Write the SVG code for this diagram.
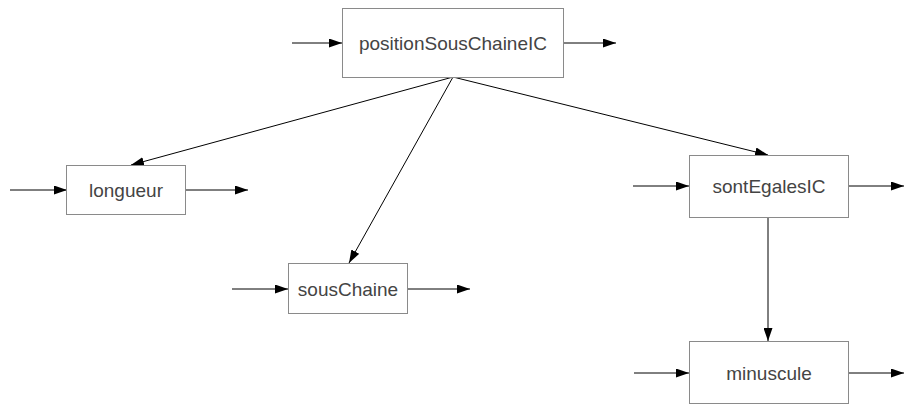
<svg xmlns="http://www.w3.org/2000/svg" width="904" height="404" viewBox="0 0 904 404">
  <style>
    .box { fill: #ffffff; stroke: #8a8a8a; stroke-width: 1; }
    .lbl { font-family: "Liberation Sans", Arial, sans-serif; font-size: 19px; fill: #444444; text-anchor: middle; dominant-baseline: central; }
    .edge { stroke: #000000; stroke-width: 1; fill: none; marker-end: url(#arrow); }
  </style>
  <defs>
    <marker id="arrow" markerWidth="13" markerHeight="9" refX="13" refY="4.5" orient="auto" markerUnits="userSpaceOnUse">
      <path d="M0,0 L13,4.5 L0,9 Z" fill="#000000"/>
    </marker>
  </defs>

  <g id="connectors">
    <!-- call links -->
    <line class="edge" x1="453" y1="77" x2="131" y2="165"/>
    <line class="edge" x1="453" y1="77" x2="349" y2="263"/>
    <line class="edge" x1="453" y1="77" x2="768" y2="155"/>
    <line class="edge" x1="768" y1="218" x2="768" y2="341"/>
    <!-- inputs / outputs -->
    <line class="edge" x1="292" y1="43" x2="342" y2="43"/>
    <line class="edge" x1="564" y1="43" x2="616" y2="43"/>
    <line class="edge" x1="10" y1="190" x2="67" y2="190"/>
    <line class="edge" x1="186" y1="190" x2="248" y2="190"/>
    <line class="edge" x1="232" y1="289" x2="288" y2="289"/>
    <line class="edge" x1="408" y1="289" x2="470" y2="289"/>
    <line class="edge" x1="633" y1="186" x2="689" y2="186"/>
    <line class="edge" x1="848" y1="186" x2="904" y2="186"/>
    <line class="edge" x1="634" y1="373" x2="689" y2="373"/>
    <line class="edge" x1="848" y1="373" x2="904" y2="373"/>
  </g>

  <g id="positionSousChaineIC">
    <rect class="box" x="342.5" y="8.5" width="221" height="69"/>
    <text class="lbl" x="453" y="43">positionSousChaineIC</text>
  </g>
  <g id="longueur">
    <rect class="box" x="66.5" y="165.5" width="119" height="49"/>
    <text class="lbl" x="126" y="190">longueur</text>
  </g>
  <g id="sousChaine">
    <rect class="box" x="288.5" y="263.5" width="119" height="50"/>
    <text class="lbl" x="348" y="289">sousChaine</text>
  </g>
  <g id="sontEgalesIC">
    <rect class="box" x="689.5" y="155.5" width="159" height="62"/>
    <text class="lbl" x="769" y="186">sontEgalesIC</text>
  </g>
  <g id="minuscule">
    <rect class="box" x="689.5" y="341.5" width="159" height="62"/>
    <text class="lbl" x="769" y="373">minuscule</text>
  </g>
</svg>
